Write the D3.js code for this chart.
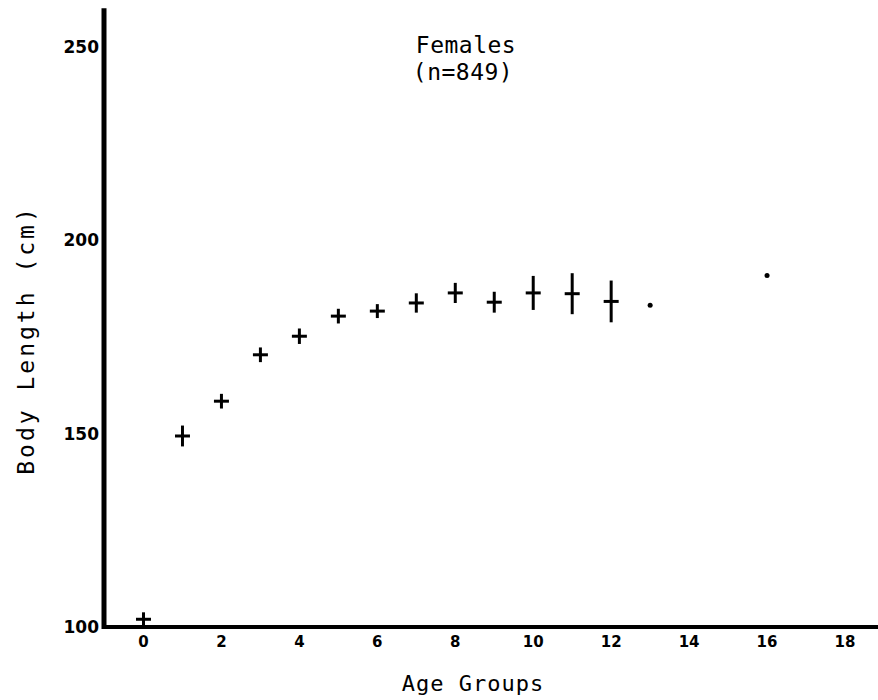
<!DOCTYPE html>
<html>
<head>
<meta charset="utf-8">
<script src="https://cdn.jsdelivr.net/npm/d3@7"></script>
<style>
  html, body { margin: 0; padding: 0; background: #fff; }
  svg { display: block; }
</style>
</head>
<body>
<svg id="chart" width="878" height="700"></svg>
<script>
// ---- data ----
const ages      = [0, 1, 2, 3, 4, 5, 6, 7, 8, 9, 10, 11, 12];
const meanLen   = [102, 149.4, 158.4, 170.4, 175.2, 180.4, 181.7, 183.8, 186.4, 184.0, 186.4, 186.2, 184.2];
const errLen    = [1.8, 2.7, 1.9, 1.9, 2.0, 1.9, 1.8, 2.5, 2.6, 2.7, 4.4, 5.3, 5.4];
const singleAges = [13, 16];
const singleLen  = [183.2, 190.9];
const xTicks = [0, 2, 4, 6, 8, 10, 12, 14, 16, 18];
const yTicks = [100, 150, 200, 250];

const svg = d3.select("#chart");
const x = d3.scaleLinear().domain([0, 18]).range([143.5, 845]);
const y = d3.scaleLinear().domain([100, 250]).range([627, 47]);

const axisX0 = 104;

// axes lines
svg.append("line")
  .attr("x1", axisX0).attr("x2", axisX0)
  .attr("y1", y(100) + 2).attr("y2", y(260))
  .attr("stroke", "#000").attr("stroke-width", 5);
svg.append("line")
  .attr("x1", axisX0 - 2).attr("x2", 878)
  .attr("y1", y(100)).attr("y2", y(100))
  .attr("stroke", "#000").attr("stroke-width", 4);

// y tick labels
svg.selectAll("text.ytick").data(yTicks).enter().append("text")
  .attr("class", "ytick")
  .attr("x", 99).attr("y", d => y(d))
  .attr("dy", "0.36em")
  .attr("text-anchor", "end")
  .style("font-family", "DejaVu Sans")
  .style("font-weight", "bold")
  .style("font-size", "17px")
  .text(d => d);

// x tick labels
svg.selectAll("text.xtick").data(xTicks).enter().append("text")
  .attr("class", "xtick")
  .attr("x", d => x(d)).attr("y", 642)
  .attr("dy", "0.36em")
  .attr("text-anchor", "middle")
  .style("font-family", "DejaVu Sans")
  .style("font-weight", "bold")
  .style("font-size", "15px")
  .text(d => d);

// axis titles
svg.append("text")
  .attr("x", 473).attr("y", 683)
  .attr("dy", "0.36em")
  .attr("text-anchor", "middle")
  .style("font-family", "DejaVu Sans Mono")
  .style("font-size", "22px")
  .style("letter-spacing", "1px")
  .text("Age Groups");

svg.append("text")
  .attr("transform", "translate(26,340) rotate(-90)")
  .attr("dy", "0.36em")
  .attr("text-anchor", "middle")
  .style("font-family", "DejaVu Sans Mono")
  .style("font-size", "23px")
  .style("letter-spacing", "3px")
  .text("Body Length (cm)");

// title
svg.append("text")
  .attr("x", 466).attr("y", 45)
  .attr("dy", "0.36em")
  .attr("text-anchor", "middle")
  .style("font-family", "DejaVu Sans Mono")
  .style("font-size", "23px")
  .style("letter-spacing", "0.5px")
  .text("Females");
svg.append("text")
  .attr("x", 463).attr("y", 72)
  .attr("dy", "0.36em")
  .attr("text-anchor", "middle")
  .style("font-family", "DejaVu Sans Mono")
  .style("font-size", "23px")
  .style("letter-spacing", "0.5px")
  .text("(n=849)");

// crosses
const pts = ages.map((a, i) => ({a, m: meanLen[i], e: errLen[i]}));
const g = svg.append("g");
g.selectAll("line.v").data(pts).enter().append("line")
  .attr("x1", d => x(d.a)).attr("x2", d => x(d.a))
  .attr("y1", d => y(d.m + d.e)).attr("y2", d => y(d.m - d.e))
  .attr("stroke", "#000").attr("stroke-width", 3);
g.selectAll("line.h").data(pts).enter().append("line")
  .attr("x1", d => x(d.a) - 7.5).attr("x2", d => x(d.a) + 7.5)
  .attr("y1", d => y(d.m)).attr("y2", d => y(d.m))
  .attr("stroke", "#000").attr("stroke-width", 3);

// single points
const singles = singleAges.map((a, i) => ({a, m: singleLen[i]}));
g.selectAll("circle").data(singles).enter().append("circle")
  .attr("cx", d => x(d.a)).attr("cy", d => y(d.m))
  .attr("r", 2.5).attr("fill", "#000");
</script>
</body>
</html>
